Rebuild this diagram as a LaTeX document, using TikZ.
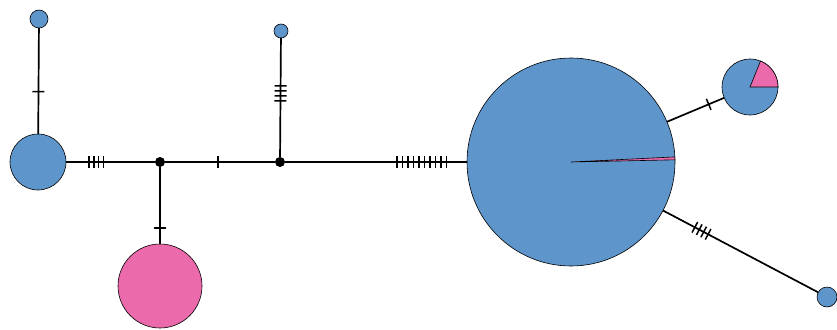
\documentclass[tikz,border=0pt]{standalone}
\usetikzlibrary{decorations.markings}
\definecolor{hblue}{HTML}{5E95CB}
\definecolor{hpink}{HTML}{EA6AAC}
\begin{document}
\begin{tikzpicture}[x=1pt,y=-1pt,
  hap/.style={circle, draw=black, line width=0.6pt, inner sep=0pt, outer sep=0pt, minimum size=#1},
  bluehap/.style={hap=#1, fill=hblue},
  pinkhap/.style={hap=#1, fill=hpink},
  junction/.style={circle, fill=black, inner sep=0pt, minimum size=10pt},
  link/.style={line width=1.7pt},
  mk/.style={postaction={decorate, decoration={markings, mark=#1}}},
  tk/.style={line width=1.5pt}
]
\useasboundingbox (0,0) rectangle (837,329);
% haplotypes
\node[bluehap=18pt] (h1) at (39,19) {};
\node[bluehap=56pt] (h2) at (38,162) {};
\node[junction] (j1) at (160,162) {};
\node[pinkhap=84pt] (h3) at (160,286) {};
\node[junction] (j2) at (280,162) {};
\node[bluehap=14pt] (h4) at (281,31) {};
\node[bluehap=208pt] (h5) at (571,162) {};
\node[bluehap=56pt] (h6) at (750,87) {};
\node[bluehap=20pt] (h7) at (827,297) {};
% pie slices
\filldraw[fill=hpink, draw=black, line width=0.6pt] (h5.center) -- ++(1.2:104pt) arc[start angle=1.2, end angle=2.8, radius=104pt] -- cycle;
\filldraw[fill=hpink, draw=black, line width=0.6pt] (h6.center) -- ++(0:28pt) arc[start angle=0, end angle=68, radius=28pt] -- cycle;
% links with mutation ticks
\draw[link, mk={at position 0.6 with {\draw[tk] (0,-6) -- (0,6);}}] (h1) -- (h2);
\draw[link, mk={between positions 23pt and 37.6pt step 4.8pt with {\draw[tk] (0,-6) -- (0,6);}}] (h2) -- (j1);
\draw[link, mk={at position 0.79 with {\draw[tk] (0,-6) -- (0,6);}}] (j1) -- (h3);
\draw[link, mk={at position 0.48 with {\draw[tk] (0,-6) -- (0,6);}}] (j1) -- (j2);
\draw[link, mk={between positions 56pt and 71.5pt step 5pt with {\draw[tk] (0,-6) -- (0,6);}}] (j2) -- (h4);
\draw[link, mk={between positions 112pt and 162.1pt step 5.5pt with {\draw[tk] (0,-6) -- (0,6);}}] (j2) -- (h5);
\draw[link, mk={at position 0.73 with {\draw[tk] (0,-6) -- (0,6);}}] (h5) -- (h6);
\draw[link, mk={between positions 36pt and 51.1pt step 5pt with {\draw[tk] (0,-6) -- (0,6);}}] (h5) -- (h7);
\end{tikzpicture}
\end{document}
